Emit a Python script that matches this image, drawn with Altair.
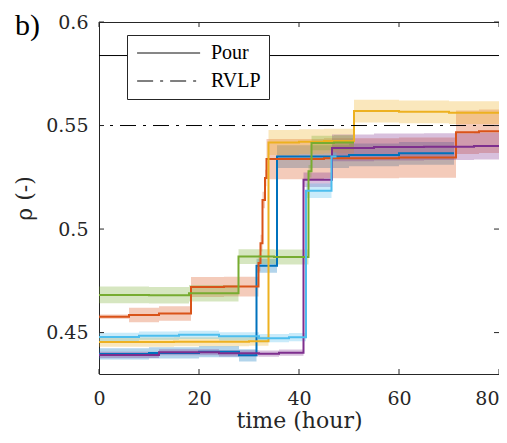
import altair as alt
import pandas as pd

# ---------------- data ----------------
series_names = ["s1", "s2", "s3", "s4", "s5", "s6"]
series_colors = ["#0072BD", "#D95319", "#EDB120", "#7E2F8E", "#77AC30", "#4DBEEE"]

blue_x = [0, 10, 20, 28, 31.5, 35.6, 50, 60, 71]
blue_y = [0.4397, 0.4402, 0.4408, 0.4390, 0.4823, 0.5350, 0.5358, 0.5366, 0.5366]
blue_hw = [0.0027, 0.0027, 0.0027, 0.0030, 0.0034, 0.0055, 0.0055, 0.0055, 0.0055]

orange_x = [0, 6, 12, 18.4, 25, 31.9, 32.3, 32.7, 33.2, 33.5, 45, 60, 71.4, 76, 80]
orange_y = [0.4577, 0.4585, 0.4592, 0.4720, 0.4722, 0.4836, 0.4932, 0.5140, 0.5247,
            0.5338, 0.5342, 0.5345, 0.5467, 0.5472, 0.5472]
orange_hw = [0.001, 0.0035, 0.0035, 0.0048, 0.0048, 0.004, 0.004, 0.004, 0.004,
             0.0097, 0.0097, 0.0097, 0.0105, 0.0105, 0.0105]

yellow_x = [0, 15, 30, 33.9, 40, 45, 51.0, 60, 70, 80]
yellow_y = [0.4454, 0.4456, 0.4458, 0.5418, 0.5422, 0.5425, 0.5570, 0.5566, 0.5562, 0.5562]
yellow_hw = [0.0022, 0.0022, 0.0022, 0.006, 0.006, 0.006, 0.0055, 0.0055, 0.0055, 0.0055]

purple_x = [0, 12, 24, 32, 36, 40.9, 46.6, 55, 65, 75, 80]
purple_y = [0.4392, 0.4405, 0.4400, 0.4398, 0.4403, 0.5238, 0.5392, 0.5396, 0.5398, 0.5401, 0.5401]
purple_hw = [0.0015, 0.0015, 0.0015, 0.0015, 0.0015, 0.0035, 0.0065, 0.0065, 0.0065, 0.0065, 0.0065]

green_x = [0, 10, 18, 27.9, 35, 41.9, 42.5, 47, 51]
green_y = [0.4682, 0.4680, 0.4690, 0.4867, 0.4865, 0.5279, 0.5416, 0.5418, 0.5418]
green_hw = [0.004, 0.004, 0.004, 0.0036, 0.0036, 0.003, 0.0035, 0.0035, 0.0035]

cyan_x = [0, 8, 16, 24, 32, 38, 41.4, 46.5, 47.5]
cyan_y = [0.4479, 0.4485, 0.4489, 0.4482, 0.4473, 0.4478, 0.5185, 0.5351, 0.5351]
cyan_hw = [0.002, 0.002, 0.002, 0.002, 0.002, 0.002, 0.0035, 0.002, 0.002]

ref_names = ["Pour", "RVLP"]
ref_values = [0.5838, 0.55]

x_ticks = [0, 20, 40, 60, 80]
y_ticks = [0.45, 0.5, 0.55, 0.6]

# ---------------- build tables ----------------
all_series = [
    (blue_x, blue_y, blue_hw),
    (orange_x, orange_y, orange_hw),
    (yellow_x, yellow_y, yellow_hw),
    (purple_x, purple_y, purple_hw),
    (green_x, green_y, green_hw),
    (cyan_x, cyan_y, cyan_hw),
]
rows = []
for name, (xs, ys, hws) in zip(series_names, all_series):
    for i, (x, y, h) in enumerate(zip(xs, ys, hws)):
        rows.append({"series": name, "x": x, "y": y, "lo": y - h, "hi": y + h, "i": i})
df = pd.DataFrame(rows)
ref_df = pd.DataFrame({"name": ref_names, "value": ref_values})
xt_df = pd.DataFrame({"t": x_ticks})
yt_df = pd.DataFrame({"t": y_ticks})
lab_df = pd.DataFrame({"t": ["b)"]})

FONT = "Liberation Serif"
AXFONT = "DejaVu Serif"
AX = "#262626"
W, H = 400, 352

xscale = alt.Scale(domain=[0, 80], nice=False, zero=False)
yscale = alt.Scale(domain=[0.43, 0.6], nice=False, zero=False)
cscale = alt.Scale(domain=series_names, range=series_colors)

xaxis = alt.Axis(values=x_ticks, title="time (hour)", ticks=False, domain=False, grid=False,
                 labelFontSize=19, labelColor=AX, labelPadding=15,
                 labelAlign={"condition": {"test": "datum.value >= 80", "value": "right"},
                             "value": "center"},
                 titleFontSize=22, titleFontWeight="normal", titleColor=AX,
                 titlePadding=2)
yaxis = alt.Axis(values=y_ticks, title="ρ (-)", ticks=False, domain=False, grid=False, format="~g",
                 labelFontSize=19, labelColor=AX, labelPadding=11,
                 titleFontSize=22, titleFontWeight="normal", titleColor=AX,
                 titlePadding=9)

X = lambda f: alt.X(f, scale=xscale, axis=xaxis)
Y = lambda f: alt.Y(f, scale=yscale, axis=yaxis)

bands = alt.Chart(df).mark_area(interpolate="step-after", opacity=0.3).encode(
    x=X("x:Q"),
    y=Y("lo:Q"),
    y2="hi:Q",
    color=alt.Color("series:N", scale=cscale, legend=None),
)
lines = alt.Chart(df).mark_line(interpolate="step-after", strokeWidth=2).encode(
    x=X("x:Q"),
    y=Y("y:Q"),
    color=alt.Color("series:N", scale=cscale, legend=None),
    order="i:Q",
)
refs = alt.Chart(ref_df).mark_rule(color="black", strokeWidth=1).encode(
    y=Y("value:Q"),
    strokeDash=alt.StrokeDash(
        "name:N",
        scale=alt.Scale(domain=ref_names, range=[[1, 0], [16, 7, 3, 7]]),
        legend=alt.Legend(title=None, orient="none", legendX=28, legendY=13,
                          symbolType="M-1,0H7", symbolSize=248, symbolStrokeColor="black",
                          symbolStrokeWidth=1, labelFont=FONT, labelFontSize=20,
                          labelColor="black", strokeColor=AX, fillColor="white",
                          padding=8, rowPadding=8, labelOffset=56, cornerRadius=0),
    ),
)
bt = alt.Chart(xt_df).mark_rule(color=AX, strokeWidth=1).encode(
    x=X("t:Q"), y=alt.value(H), y2=alt.value(H - 5))
tt = alt.Chart(xt_df).mark_rule(color=AX, strokeWidth=1).encode(
    x=X("t:Q"), y=alt.value(0), y2=alt.value(5))
lt = alt.Chart(yt_df).mark_rule(color=AX, strokeWidth=1).encode(
    y=Y("t:Q"), x=alt.value(0), x2=alt.value(5))
rt = alt.Chart(yt_df).mark_rule(color=AX, strokeWidth=1).encode(
    y=Y("t:Q"), x=alt.value(W), x2=alt.value(W - 5))
blabel = alt.Chart(lab_df).mark_text(align="left", baseline="alphabetic", font=FONT,
                                      fontSize=30, color="black").encode(
    text="t:N", x=alt.value(-84), y=alt.value(13))

chart = alt.layer(bands, lines, refs, bt, tt, lt, rt, blabel).properties(
    width=W, height=H,
    autosize=alt.AutoSizeParams(type="none"),
    padding={"left": 91, "top": 14, "right": 0, "bottom": 61},
).configure(font=FONT).configure_axis(
    labelFont=AXFONT, titleFont=AXFONT
).configure_view(stroke=AX, strokeWidth=1)

chart.save("out.html", embed_options={"renderer": "svg", "actions": False})
